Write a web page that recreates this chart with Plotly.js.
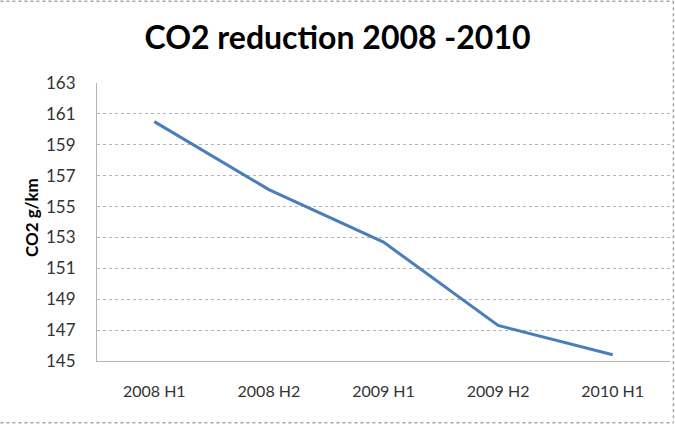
<!DOCTYPE html>
<html>
<head>
<meta charset="utf-8">
<script src="https://cdn.plot.ly/plotly-3.0.1.min.js"></script>
<style>
html,body{margin:0;padding:0;background:#fff;}
#chart{width:675px;height:425px;}
</style>
</head>
<body>
<div id="chart"></div>
<script>
const categories = ["2008 H1", "2008 H2", "2009 H1", "2009 H2", "2010 H1"];
const co2Values = [160.5, 156.1, 152.7, 147.3, 145.4];
const yTickValues = [145, 147, 149, 151, 153, 155, 157, 159, 161, 163];
const yAxisTitle = "CO2 g/km";

const gridColor = "#b4b4b4";
const shapes = [];
// outer frame (top, right, bottom)
const frame = {type: "line", xref: "paper", yref: "paper", line: {color: "#a6a6a6", width: 1.5, dash: "dot"}};
shapes.push(Object.assign({}, frame, {x0: -0.2, x1: 1.006, y0: 1.294, y1: 1.294}));
shapes.push(Object.assign({}, frame, {x0: 1.006, x1: 1.006, y0: 1.294, y1: -0.222}));
shapes.push(Object.assign({}, frame, {x0: -0.2, x1: 1.006, y0: -0.222, y1: -0.222}));

const trace = {
  x: categories,
  y: co2Values,
  type: "scatter",
  mode: "lines",
  line: {color: "#4a7ebb", width: 3},
  hoverinfo: "x+y"
};

const layout = {
  width: 675,
  height: 425,
  margin: {l: 97, r: 5, t: 83, b: 64},
  paper_bgcolor: "#ffffff",
  plot_bgcolor: "#ffffff",
  showlegend: false,
  title: {
    text: "CO2 reduction 2008 -2010",
    font: {family: "Lato, sans-serif", size: 32, color: "#000000", weight: "bold"},
    x: 0.5, xanchor: "center",
    y: 0.91, yanchor: "middle",
    xref: "container"
  },
  xaxis: {
    type: "category",
    range: [-0.5, 4.5],
    showgrid: false,
    showline: true,
    linecolor: gridColor,
    linewidth: 1,
    ticks: "",
    ticklabelstandoff: 16,
    tickfont: {family: "Lato, sans-serif", size: 16, color: "#333333"},
    zeroline: false,
    fixedrange: true
  },
  yaxis: {
    range: [145, 163],
    tickvals: yTickValues,
    ticktext: yTickValues.map(String),
    showgrid: true,
    gridcolor: gridColor,
    griddash: "dot",
    gridwidth: 1,
    showline: true,
    linecolor: gridColor,
    linewidth: 1,
    ticks: "",
    ticklabelstandoff: 17,
    tickfont: {family: "Lato, sans-serif", size: 17, color: "#333333"},
    zeroline: false,
    fixedrange: true
  },
  annotations: [{
    text: yAxisTitle,
    xref: "paper", yref: "paper",
    x: -0.113, y: 0.515,
    xanchor: "center", yanchor: "middle",
    textangle: -90,
    showarrow: false,
    font: {family: "Lato, sans-serif", size: 17, color: "#000000", weight: "bold"}
  }],
  shapes: shapes
};

Plotly.newPlot("chart", [trace], layout, {displayModeBar: false, staticPlot: true});
</script>
</body>
</html>
